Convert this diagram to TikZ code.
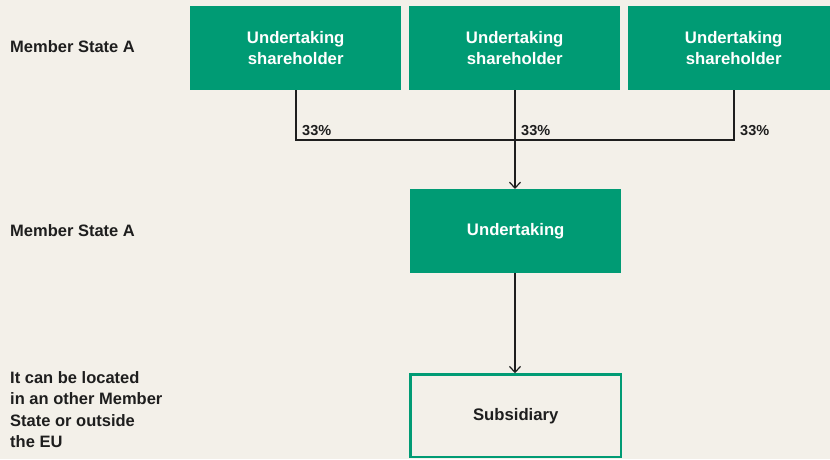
\documentclass[tikz,border=0pt]{standalone}
\usepackage{fontspec}
\setmainfont{Liberation Sans}
\usetikzlibrary{arrows.meta,positioning}
\definecolor{bgbeige}{HTML}{F3F0E9}
\definecolor{eugreen}{HTML}{009B74}
\definecolor{inkdark}{HTML}{1E1E1E}
\tikzset{
  greenbox/.style={fill=eugreen, draw=none, text=white, font=\bfseries\fontsize{16.7}{21.5}\selectfont, align=center, minimum width=211pt, minimum height=84pt, inner sep=0pt, anchor=north west},
  outlinebox/.style={draw=eugreen, line width=2.5pt, fill=none, text=inkdark, font=\bfseries\fontsize{16.7}{21.5}\selectfont, align=center, minimum width=210.5pt, minimum height=82.5pt, inner sep=0pt, anchor=north west},
  sidelabel/.style={text=inkdark, font=\bfseries\fontsize{16.5}{21.5}\selectfont, align=left, anchor=west, inner sep=0pt},
  pct/.style={text=inkdark, font=\bfseries\fontsize{14.5}{16}\selectfont, anchor=base west, inner sep=0pt},
  link/.style={draw=inkdark, line width=1.2pt},
  arrowlink/.style={link, -{Straight Barb[length=6pt,width=11pt,line width=1.2pt]}}
}
\begin{document}
\begin{tikzpicture}[x=1pt,y=-1pt]
  \fill[bgbeige] (0,0) rectangle (830,459);
  \useasboundingbox (0,0) rectangle (830,459);

  % shareholders
  \node[greenbox] (sh1) at (190,6) {Undertaking\\shareholder};
  \node[greenbox] (sh2) at (409,6) {Undertaking\\shareholder};
  \node[greenbox] (sh3) at (628,6) {Undertaking\\shareholder};

  % central undertaking and its subsidiary
  \node[greenbox] (und) at (410,189) {Undertaking};
  \node[outlinebox] (sub) at (409.25,373.25) {Subsidiary};

  % side labels
  \node[sidelabel] (lab1) at (10,47) {Member State A};
  \node[sidelabel] (lab2) at (10,231) {Member State A};
  \node[sidelabel, anchor=north west] (lab3) at (10,371) {It can be located\\in an other Member\\State or outside\\the EU};

  % ownership lines
  \coordinate (j1) at (296,140);
  \coordinate (j2) at (515,140);
  \coordinate (j3) at (734,140);
  \draw[link] (sh1.south -| j1) -- (j1) -- (j3) -- (sh3.south -| j3);
  \draw[link] (sh2.south -| j2) -- (j2);
  \draw[arrowlink] (j2) -- (und.north -| j2);
  \draw[arrowlink] (und.south -| j2) -- (sub.north -| j2);

  \node[pct] (p1) at (302,135) {33\%};
  \node[pct] (p2) at (521,135) {33\%};
  \node[pct] (p3) at (740,135) {33\%};
\end{tikzpicture}
\end{document}
